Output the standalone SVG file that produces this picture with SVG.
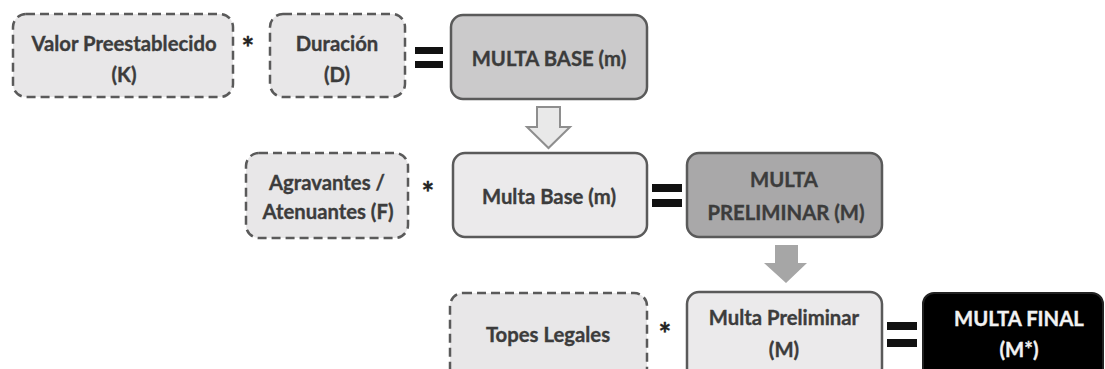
<svg xmlns="http://www.w3.org/2000/svg" width="1105" height="369" viewBox="0 0 1105 369">
<style>
.dash{fill:#e8e7e8;stroke:#5a5a5a;stroke-width:2.5;stroke-dasharray:9 5}
.solid{stroke:#5a5a5a;stroke-width:2.5}
.light{fill:#ebeaeb}
.mid{fill:#cbcacb}
.dark{fill:#a9a8a9}
.black{fill:#000;stroke:#222;stroke-width:2}
text{font-family:Lato,"Open Sans","Liberation Sans",sans-serif;font-weight:bold;font-size:20.3px;fill:#3c3c3c;text-anchor:middle;stroke:#3c3c3c;stroke-width:0.35}
.w{fill:#f2f2f2;stroke:#f2f2f2}
.op{font-size:30px;fill:#222;stroke:#222}
.eq{fill:#111}
</style>
<rect width="1105" height="369" fill="#fff"/>
<g id="valor"><rect class="dash" x="13" y="14" width="220" height="83" rx="13"/><text x="124" y="51">Valor Preestablecido</text><text x="124" y="82">(K)</text></g>
<g id="duracion"><rect class="dash" x="270" y="14" width="135" height="83" rx="13"/><text x="337" y="51">Duración</text><text x="337" y="82">(D)</text></g>
<g id="multa-base-1"><rect class="solid mid" x="451" y="15" width="196" height="84" rx="12"/><text x="549" y="66">MULTA BASE (m)</text></g>
<g id="agravantes"><rect class="dash" x="246" y="153" width="162" height="85" rx="13"/><text x="327" y="190">Agravantes /</text><text x="328" y="219">Atenuantes (F)</text></g>
<g id="multa-base-2"><rect class="solid light" x="453" y="153" width="194" height="84" rx="12"/><text x="549" y="204">Multa Base (m)</text></g>
<g id="multa-preliminar-1"><rect class="solid dark" x="687" y="153" width="195" height="84" rx="12"/><text x="784" y="187">MULTA</text><text x="786" y="220">PRELIMINAR (M)</text></g>
<g id="topes"><rect class="dash" x="450" y="293" width="197" height="88" rx="13"/><text x="548" y="342">Topes Legales</text></g>
<g id="multa-preliminar-2"><rect class="solid light" x="687" y="292" width="195" height="88" rx="12"/><text x="784" y="325">Multa Preliminar</text><text x="784" y="357">(M)</text></g>
<g id="multa-final"><rect class="black" x="923" y="293" width="180" height="88" rx="11"/><text class="w" x="1019" y="326">MULTA FINAL</text><text class="w" x="1019" y="357">(M*)</text></g>
<g id="connectors">
<g class="eq"><rect x="415" y="47" width="28" height="7"/><rect x="415" y="61" width="28" height="7"/>
<rect x="652" y="184" width="30" height="8"/><rect x="652" y="199" width="30" height="8"/>
<rect x="887" y="322" width="30" height="8"/><rect x="887" y="339" width="30" height="8"/></g>
<text class="op" x="248" y="59">*</text>
<text class="op" x="428" y="204">*</text>
<text class="op" x="665" y="345">*</text>
<path d="M537,107 H560 V127 H570 L548.5,148 L527,127 H537 Z" fill="#e9e9e9" stroke="#8e8e8e" stroke-width="2"/>
<path d="M775,245 H798 V263 H807 L786,283 L764,263 H775 Z" fill="#a6a6a6"/>
</g>
</svg>
